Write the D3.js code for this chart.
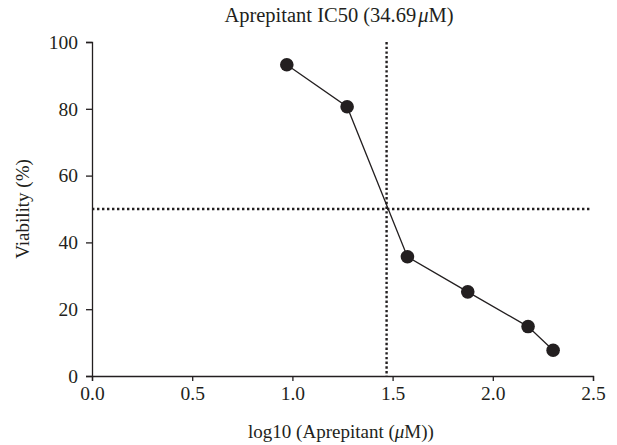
<!DOCTYPE html>
<html><head><meta charset="utf-8">
<script src="https://cdn.jsdelivr.net/npm/d3@7"></script>
<style>
html,body{margin:0;padding:0;background:#fff;}
svg text{font-family:"Liberation Serif","DejaVu Serif",serif;fill:#231f20;}
</style></head>
<body>
<div id="chart"></div>
<script>
const logConc = [0.972, 1.273, 1.574, 1.875, 2.176, 2.301];
const viability = [93.2, 80.6, 35.7, 25.2, 14.8, 7.7];
const xTicks = [0.0, 0.5, 1.0, 1.5, 2.0, 2.5];
const yTicks = [0, 20, 40, 60, 80, 100];
const ic50Log = 1.47;
const halfLevel = 50;
const titleText = "Aprepitant IC50 (34.69";
const xTitleText = "log10 (Aprepitant (";

const W = 617, H = 445;
const ink = "#231f20";
const svg = d3.select("#chart").append("svg").attr("width", W).attr("height", H);

const x = d3.scaleLinear().domain([0, 2.5]).range([92, 593]);
const y = d3.scaleLinear().domain([0, 100]).range([376, 42]);

const tickFs = 19.5, titleFs = 20.5, axisFs = 19;

// axes
const xAxis = svg.append("g").attr("transform", `translate(0,${y(0)})`)
  .call(d3.axisBottom(x).tickValues(xTicks).tickFormat(d3.format(".1f")).tickSizeOuter(0).tickSize(5).tickPadding(5));
const yAxis = svg.append("g").attr("transform", `translate(${x(0)},0)`)
  .call(d3.axisLeft(y).tickValues(yTicks).tickFormat(d3.format("d")).tickSizeOuter(0).tickSize(6).tickPadding(8));
[xAxis, yAxis].forEach(g => {
  g.selectAll("path,line").attr("stroke", ink).attr("stroke-width", 1.3);
  g.selectAll("text").attr("font-size", tickFs).attr("font-family", "Liberation Serif").attr("fill", ink);
});

// reference dotted lines
svg.append("line")
  .attr("x1", x(0)).attr("x2", x(2.49))
  .attr("y1", y(halfLevel)).attr("y2", y(halfLevel))
  .attr("stroke", ink).attr("stroke-width", 2.4).attr("stroke-dasharray", "2.4 2.6");
svg.append("line")
  .attr("x1", x(ic50Log)).attr("x2", x(ic50Log))
  .attr("y1", y(100)).attr("y2", y(0))
  .attr("stroke", ink).attr("stroke-width", 2.4).attr("stroke-dasharray", "2.4 2.3");

// data line and points
const pts = logConc.map((v, i) => [v, viability[i]]);
svg.append("path").datum(pts)
  .attr("fill", "none").attr("stroke", ink).attr("stroke-width", 1.3)
  .attr("d", d3.line().x(d => x(d[0])).y(d => y(d[1])));
svg.selectAll("circle.pt").data(pts).enter().append("circle")
  .attr("class", "pt").attr("cx", d => x(d[0])).attr("cy", d => y(d[1]))
  .attr("r", 6.8).attr("fill", ink);

// title
const t = svg.append("text").attr("x", 339).attr("y", 22).attr("text-anchor", "middle").attr("font-size", titleFs);
t.append("tspan").text(titleText);
t.append("tspan").attr("font-style", "italic").attr("dx", 2).text("\u03bc");
t.append("tspan").text("M)");

// x title
const xt = svg.append("text").attr("x", 341).attr("y", 438).attr("text-anchor", "middle").attr("font-size", axisFs);
xt.append("tspan").text(xTitleText);
xt.append("tspan").attr("font-style", "italic").text("\u03bc");
xt.append("tspan").text("M))");

// y title
svg.append("text").attr("transform", `translate(29,${y(50)}) rotate(-90)`)
  .attr("text-anchor", "middle").attr("font-size", axisFs).text("Viability (%)");
</script>
</body></html>
